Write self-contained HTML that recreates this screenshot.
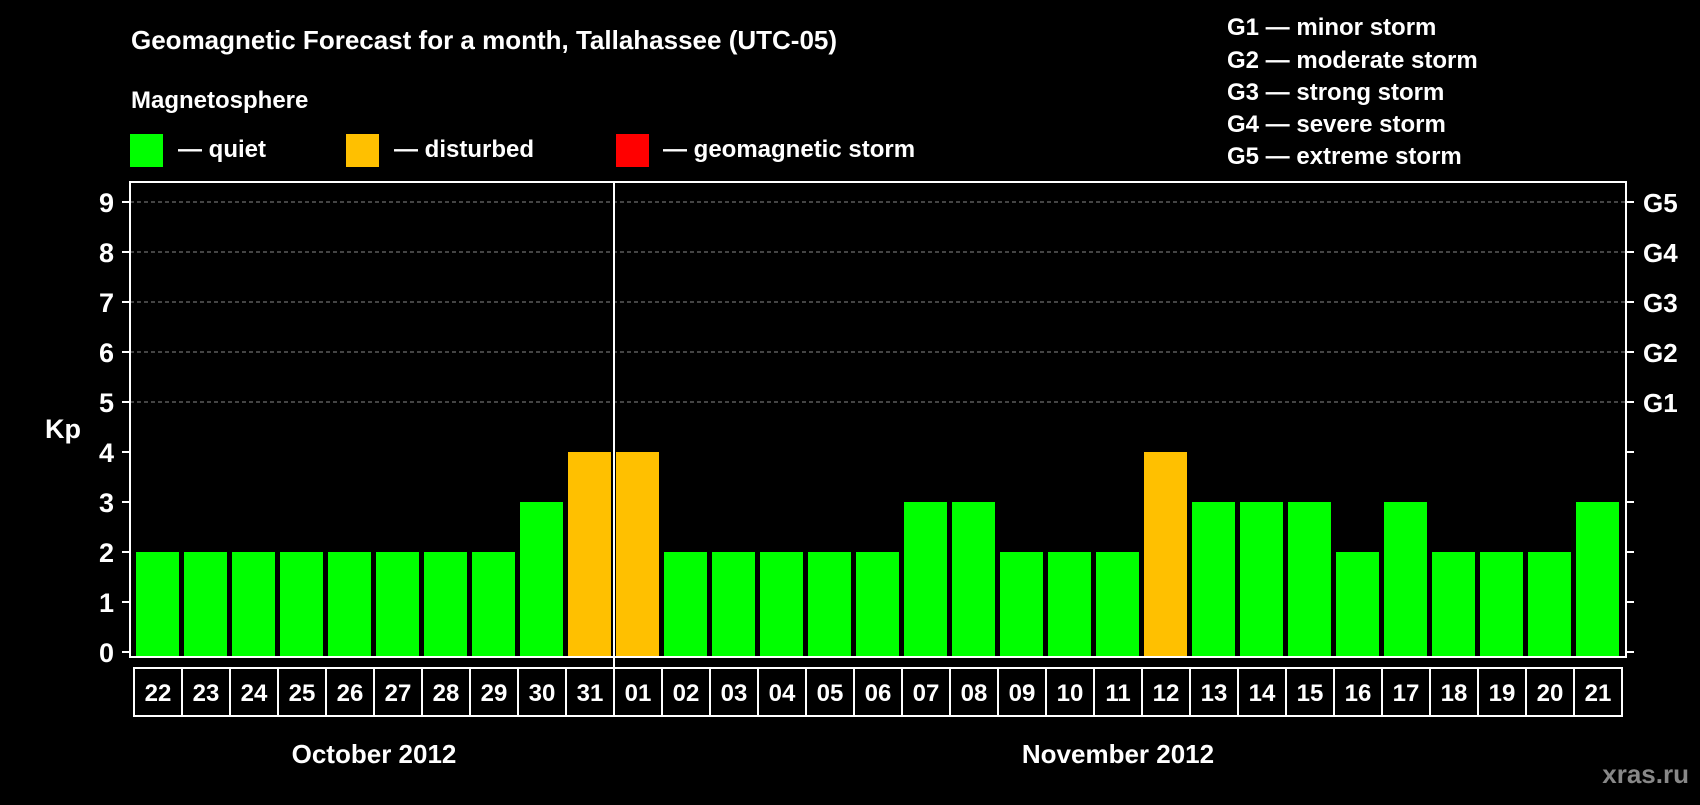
<!DOCTYPE html>
<html><head><meta charset="utf-8"><style>
body{margin:0;background:#000;width:1700px;height:800px;overflow:hidden;font-family:"Liberation Sans",sans-serif;}
svg text{font-family:"Liberation Sans",sans-serif;font-weight:bold;fill:#fff;}
</style></head><body>
<svg id="chart" width="1700" height="800">
<text x="131" y="49" font-size="26">Geomagnetic Forecast for a month, Tallahassee (UTC-05)</text>
<text x="131" y="108" font-size="24">Magnetosphere</text>
<g><rect x="130" y="134" width="33" height="33" fill="#00ff00"/><text x="178" y="157" font-size="24">— quiet</text></g>
<g><rect x="346" y="134" width="33" height="33" fill="#ffc000"/><text x="394" y="157" font-size="24">— disturbed</text></g>
<g><rect x="616" y="134" width="33" height="33" fill="#ff0000"/><text x="663" y="157" font-size="24">— geomagnetic storm</text></g>
<g font-size="24">
<text x="1227" y="35">G1 — minor storm</text>
<text x="1227" y="68">G2 — moderate storm</text>
<text x="1227" y="100">G3 — strong storm</text>
<text x="1227" y="132">G4 — severe storm</text>
<text x="1227" y="164">G5 — extreme storm</text>
</g>
<text x="63" y="438" font-size="27" text-anchor="middle">Kp</text>
<g id="grid"></g><g id="bars"></g><g id="axes"></g>
<text x="374" y="763" font-size="26" text-anchor="middle">October 2012</text>
<text x="1118" y="763" font-size="26" text-anchor="middle">November 2012</text>
<text x="1689" y="783" font-size="26" text-anchor="end" style="fill:#888">xras.ru</text>
</svg>
<script>
const days=["22","23","24","25","26","27","28","29","30","31","01","02","03","04","05","06","07","08","09","10","11","12","13","14","15","16","17","18","19","20","21"];
const kp=[2,2,2,2,2,2,2,2,3,4,4,2,2,2,2,2,3,3,2,2,2,4,3,3,3,2,3,2,2,2,3];
const yTicks=[0,1,2,3,4,5,6,7,8,9];
const gLabels=["G1","G2","G3","G4","G5"];
const gLevels=[5,6,7,8,9];
const NS="http://www.w3.org/2000/svg";
const L=130,R=1626,T=182,B=657,cL=134,cR=1622;
const y=v=>652-v*50;
const pitch=(cR-cL)/days.length;
const x=i=>cL+i*pitch;
function mk(t,a,p){const e=document.createElementNS(NS,t);for(const k in a)e.setAttribute(k,a[k]);p.appendChild(e);return e;}
const grid=document.getElementById('grid'),bars=document.getElementById('bars'),axes=document.getElementById('axes');
gLevels.forEach(v=>{const l=mk('line',{x1:L,x2:R,y1:y(v),y2:y(v),stroke:'#888','stroke-dasharray':'4,3','stroke-width':1},grid);

});
kp.forEach((v,i)=>{const c=v>=5?'#ff0000':(v>=4?'#ffc000':'#00ff00');
const r=mk('rect',{x:x(i)+2,y:y(v),width:pitch-5,height:y(0)+5-y(v),fill:c},bars);

});
const box=mk('rect',{x:L,y:T,width:R-L,height:B-T,fill:'none',stroke:'#fff','stroke-width':2},axes);


const div=mk('line',{x1:x(10),x2:x(10),y1:T,y2:716,stroke:'#fff','stroke-width':2},axes);


yTicks.forEach(v=>{mk('line',{x1:L-8,x2:L,y1:y(v),y2:y(v),stroke:'#fff','stroke-width':2},axes);
mk('line',{x1:R,x2:R+8,y1:y(v),y2:y(v),stroke:'#fff','stroke-width':2},axes);
const t=mk('text',{x:114,y:y(v)+10,'font-size':27,'text-anchor':'end'},axes);t.textContent=v;

});
gLabels.forEach((g,i)=>{const t=mk('text',{x:1643,y:y(gLevels[i])+10,'font-size':26},axes);t.textContent=g;

});
days.forEach((d,i)=>{const c=mk('rect',{x:x(i),y:668,width:pitch,height:48,fill:'none',stroke:'#fff','stroke-width':2},axes);


const t=mk('text',{x:x(i)+pitch/2,y:701,'font-size':24,'text-anchor':'middle'},axes);t.textContent=d;

});
</script>
</body></html>
